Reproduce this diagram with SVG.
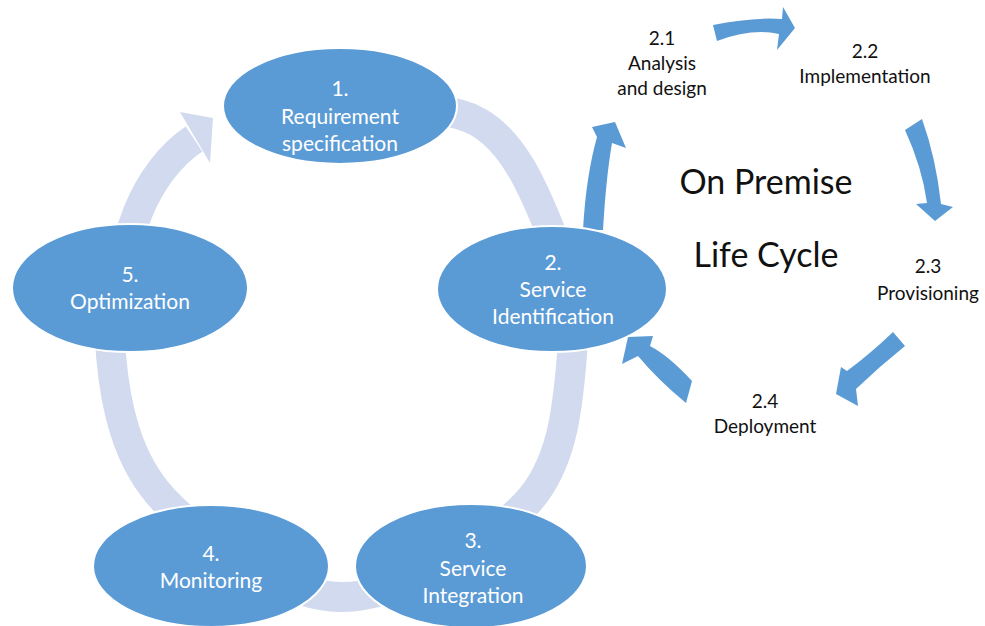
<svg xmlns="http://www.w3.org/2000/svg" width="985" height="626" viewBox="0 0 985 626">
<style>
.node{fill:#5b9bd5;stroke:#ffffff;stroke-width:2}
.nt{font-family:Lato,"Liberation Sans",sans-serif;font-size:21px;fill:#ffffff;text-anchor:middle}
.lt{font-family:Lato,"Liberation Sans",sans-serif;font-size:19px;fill:#111111;text-anchor:middle}
.big{font-family:Lato,"Liberation Sans",sans-serif;font-size:34px;fill:#111111;text-anchor:middle}
.band{fill:none;stroke:#d1daee;stroke-width:30}
.head{fill:#d1daee}
.barrow{fill:#5b9bd5}
</style>
<rect width="985" height="626" fill="#ffffff"/>
<g id="connectors">
<path class="band" d="M340,106 C386,111 443,102 478,122 C513,142 532,186 548,225 C564,264 576,308 572,355 C568,402 564,465 525,505 C486,545 400,598 340,597 C280,596 202,540 164,500 C126,460 115,403 111,355 C107,307 124,248 138,212 C150,182 170,155 194,139"/>
<polygon class="head" points="180,112 213,118 210,163"/>
<path class="barrow" d="M583,230 Q586,176 597,137 L592,127 L615,122 L626,148 L612,143 Q606,178 603,230 Z"/>
<path class="barrow" d="M713,25 Q752,17 782,19 L783,7 L795,28 L777,50 L779,34 Q752,28 717,41 Z"/>
<path class="barrow" d="M905,130 Q922,167 927,203 L916,204 L935,221 L953,207 L941,204 Q936,158 922,119 Z"/>
<path class="barrow" d="M893,332 Q870,354 847,371 L841,367 L836,394 L858,406 L856,389 Q880,366 905,346 Z"/>
<path class="barrow" d="M692,381 Q669,356 650,346 L653,336 L628,337 L622,364 L638,356 Q658,380 686,403 Z"/>
</g>
<g id="node1">
<ellipse class="node" cx="340" cy="106" rx="117" ry="58"/>
<text class="nt" x="340" y="96">1.</text>
<text class="nt" x="340" y="124">Requirement</text>
<text class="nt" x="340" y="151">specification</text>
</g>
<g id="node2">
<ellipse class="node" cx="552" cy="289" rx="115" ry="63"/>
<text class="nt" x="553" y="270">2.</text>
<text class="nt" x="553" y="297">Service</text>
<text class="nt" x="553" y="324">Identification</text>
</g>
<g id="node3">
<ellipse class="node" cx="471" cy="566" rx="116" ry="62"/>
<text class="nt" x="473" y="548">3.</text>
<text class="nt" x="473" y="576">Service</text>
<text class="nt" x="473" y="603">Integration</text>
</g>
<g id="node4">
<ellipse class="node" cx="211" cy="566" rx="118" ry="61"/>
<text class="nt" x="211" y="561">4.</text>
<text class="nt" x="211" y="588">Monitoring</text>
</g>
<g id="node5">
<ellipse class="node" cx="130" cy="288" rx="118" ry="64"/>
<text class="nt" x="130" y="282">5.</text>
<text class="nt" x="130" y="309">Optimization</text>
</g>
<g id="title">
<text class="big" x="766" y="194">On Premise</text>
<text class="big" x="766" y="267">Life Cycle</text>
</g>
<g id="step21">
<text class="lt" x="662" y="45">2.1</text>
<text class="lt" x="662" y="70">Analysis</text>
<text class="lt" x="662" y="95">and design</text>
</g>
<g id="step22">
<text class="lt" x="865" y="58">2.2</text>
<text class="lt" x="865" y="83">Implementation</text>
</g>
<g id="step23">
<text class="lt" x="928" y="273">2.3</text>
<text class="lt" x="928" y="300">Provisioning</text>
</g>
<g id="step24">
<text class="lt" x="765" y="408">2.4</text>
<text class="lt" x="765" y="433">Deployment</text>
</g>
</svg>
